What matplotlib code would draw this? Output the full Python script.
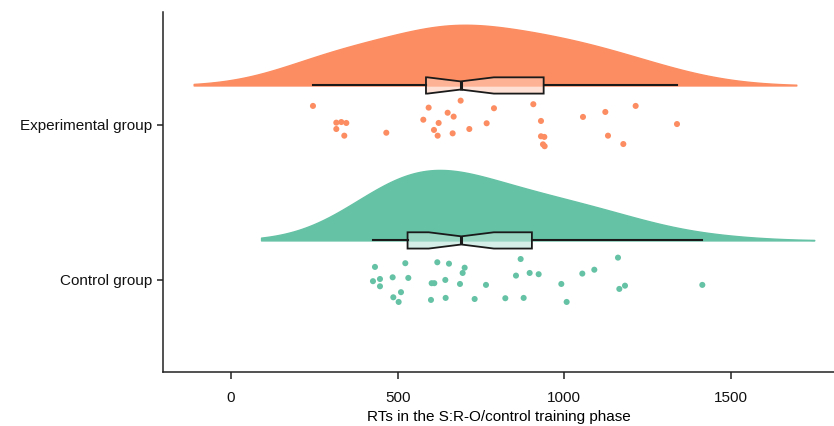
import numpy as np
import matplotlib
matplotlib.use("Agg")
import matplotlib.pyplot as plt
from matplotlib.colors import to_rgb

plt.rcParams['font.family'] = ['Liberation Sans', 'DejaVu Sans']

# ---------------- data ----------------
groups = ["Control group", "Experimental group"]
colors = ["#66C2A5", "#FC8D62"]

exp_rt = [246, 593, 689, 789, 907, 1214, 1123, 1056, 650, 668, 577, 623,
          316, 331, 346, 316, 340, 466, 609, 620, 665, 715, 767, 930,
          1338, 930, 940, 936, 941, 1131, 1177]
exp_jitter = [0.123, 0.112, 0.157, 0.108, 0.134, 0.123, 0.084, 0.052, 0.079,
              0.054, 0.034, 0.013, 0.015, 0.019, 0.013, -0.026, -0.069, -0.050,
              -0.032, -0.069, -0.054, -0.026, 0.011, 0.026, 0.006, -0.073,
              -0.077, -0.125, -0.137, -0.069, -0.123]

ctrl_rt = [432, 523, 619, 654, 701, 695, 869, 1161, 1090, 1054, 923, 896,
           855, 426, 447, 447, 485, 532, 602, 610, 643, 687, 765, 991, 1165,
           1182, 1414, 487, 510, 503, 600, 644, 731, 823, 878, 1007]
ctrl_jitter = [0.084, 0.108, 0.114, 0.105, 0.079, 0.045, 0.135, 0.144, 0.066,
               0.041, 0.037, 0.045, 0.028, -0.008, 0.006, -0.041, 0.017, 0.013,
               -0.021, -0.021, 0.0, -0.026, -0.032, -0.026, -0.058, -0.037,
               -0.032, -0.112, -0.079, -0.142, -0.129, -0.116, -0.123, -0.118,
               -0.116, -0.142]

xticks = [0, 500, 1000, 1500]
xlabel = "RTs in the S:R-O/control training phase"

data = [np.array(ctrl_rt, float), np.array(exp_rt, float)]
jitters = [np.array(ctrl_jitter), np.array(exp_jitter)]

# ---------------- helpers (ggplot-style flat violin density) ----------------
ADJUST = 1.5   # bandwidth adjustment
CUT = 3.0      # range extended by CUT * unadjusted bandwidth

def bw_nrd0(x):
    q1, q3 = np.percentile(x, [25, 75])
    lo = min(np.std(x, ddof=1), (q3 - q1) / 1.34)
    return 0.9 * lo * len(x) ** (-0.2)

def kde(x):
    bw0 = bw_nrd0(x)
    bw = bw0 * ADJUST
    grid = np.linspace(x.min() - CUT * bw0, x.max() + CUT * bw0, 512)
    d = np.exp(-0.5 * ((grid[:, None] - x[None, :]) / bw) ** 2).sum(1)
    d /= len(x) * bw * np.sqrt(2 * np.pi)
    return grid, d

def lighten(c, f):
    r = np.array(to_rgb(c))
    return tuple(r + (1 - r) * f)

# ---------------- figure ----------------
fig = plt.figure(figsize=(8.34, 4.26), dpi=100)
ax = fig.add_axes([0.1954, 0.1268, 0.8046, 0.845])

positions = [1, 2]
nudge = 0.255
max_height = 0.455

max_n = max(len(x) for x in data)
for pos, x, col in zip(positions, data, colors):
    grid, d = kde(x)
    base = pos + nudge
    h = d / d.max() * max_height * len(x) / max_n   # scale = "count"
    ax.fill_between(grid, base, base + h, facecolor=col, edgecolor=col,
                    linewidth=1.0, zorder=2)

bp = ax.boxplot(data, positions=[p + nudge for p in positions],
                orientation='horizontal', notch=True, whis=(0, 100),
                widths=0.105, patch_artist=True, showcaps=False,
                showfliers=False, manage_ticks=False, zorder=4,
                boxprops=dict(linewidth=1.3, edgecolor='#1a1a1a'),
                whiskerprops=dict(linewidth=1.5, color='#1a1a1a'),
                medianprops=dict(linewidth=2.2, color='#1a1a1a'))
for patch, col in zip(bp['boxes'], colors):
    patch.set_facecolor(lighten(col, 0.55) + (0.6,))

for pos, x, j, col in zip(positions, data, jitters, colors):
    ax.scatter(x, pos + j, s=19, color=col, edgecolor='none', zorder=3)

ax.set_xlim(-204, 1809)
ax.set_ylim(0.406, 2.729)
ax.set_xticks(xticks)
ax.set_xticklabels([str(t) for t in xticks])
ax.set_yticks(positions)
ax.set_yticklabels(groups)
ax.set_xlabel(xlabel, fontsize=11, labelpad=3)

for s in ['top', 'right']:
    ax.spines[s].set_visible(False)
for s in ['left', 'bottom']:
    ax.spines[s].set_linewidth(1.1)
    ax.spines[s].set_color('#222222')
ax.tick_params(axis='both', labelsize=11, width=1.1, color='#222222',
               labelcolor='#111111')
ax.tick_params(axis='x', length=5, pad=9)
ax.tick_params(axis='y', length=4, pad=4)

fig.savefig("out.png", dpi=100)
